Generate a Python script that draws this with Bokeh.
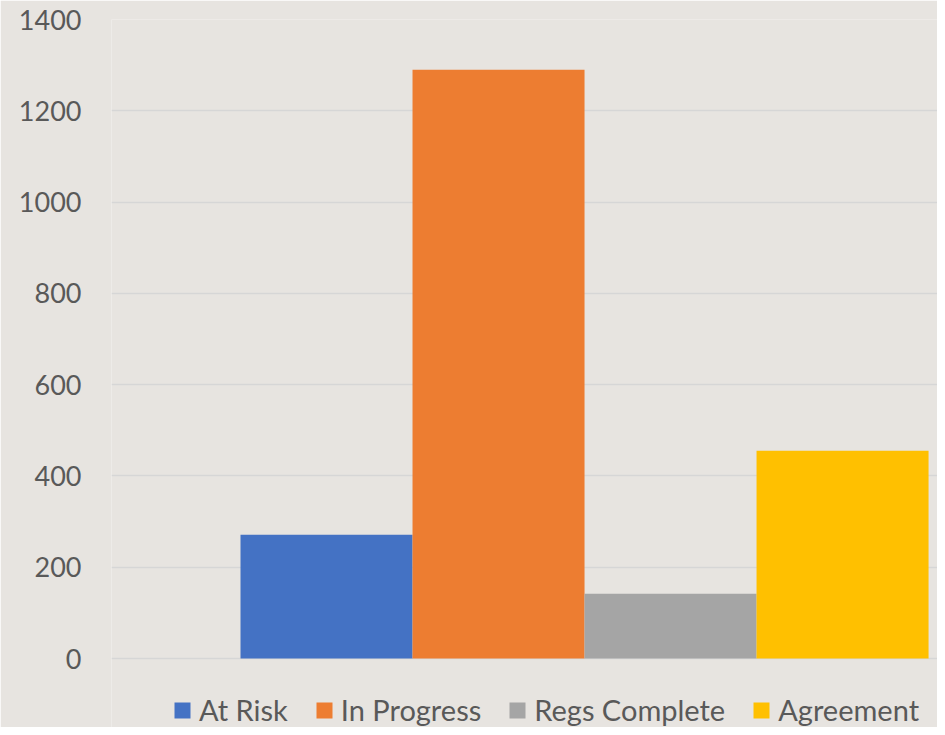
from bokeh.plotting import figure
from bokeh.models import Legend, LegendItem, Range1d
from bokeh.embed import file_html
from bokeh.resources import INLINE

series = ["At Risk", "In Progress", "Regs Complete", "Agreement"]
values = [271, 1290, 142, 455]
colors = ["#4472C4", "#ED7D31", "#A5A5A5", "#FFC000"]
y_ticks = [0, 200, 400, 600, 800, 1000, 1200, 1400]

BG = "#e7e4e0"
FONT = "Lato"
TXT = "#595959"

W, H = 937, 727
TOP, LEFT = 19, 111
ZERO_PX = 658  # vertical pixel where the value axis zero sits
px_per_unit = (ZERO_PX - TOP) / 1400.0
y_start = -(H - ZERO_PX) / px_per_unit

p = figure(width=W, height=H, output_backend="svg", toolbar_location=None,
           x_range=Range1d(-0.75, 4.052), y_range=Range1d(y_start, 1400),
           min_border_left=LEFT, min_border_right=0, min_border_top=TOP, min_border_bottom=0)
p.background_fill_color = BG
p.border_fill_color = BG
p.outline_line_color = None

items = []
for i, (s, v, c) in enumerate(zip(series, values, colors)):
    r = p.vbar(x=[i + 0.5], top=[v], bottom=0, width=1.0, fill_color=c, line_color=None)
    items.append(LegendItem(label=s, renderers=[r]))

p.xaxis.visible = False
p.xgrid.visible = False
p.yaxis.ticker = y_ticks
p.yaxis.axis_line_color = None
p.yaxis.major_tick_line_color = None
p.yaxis.minor_tick_line_color = None
p.yaxis.major_tick_out = 0
p.yaxis.major_tick_in = 0
p.yaxis.major_label_standoff = 30
p.yaxis.major_label_text_font = FONT
p.yaxis.major_label_text_font_size = "27px"
p.yaxis.major_label_text_color = TXT
p.ygrid.grid_line_color = "#d6d6d6"
p.ygrid.grid_line_width = 1.5

legend = Legend(items=items, orientation="horizontal", location=(61, 0),
                padding=0, margin=0, spacing=26, label_standoff=7,
                glyph_width=20, glyph_height=20,
                label_text_font=FONT, label_text_font_size="29px", label_text_color=TXT,
                border_line_color=None, background_fill_alpha=0)
p.add_layout(legend, "center")

open("out.html", "w").write(file_html(p, INLINE))
